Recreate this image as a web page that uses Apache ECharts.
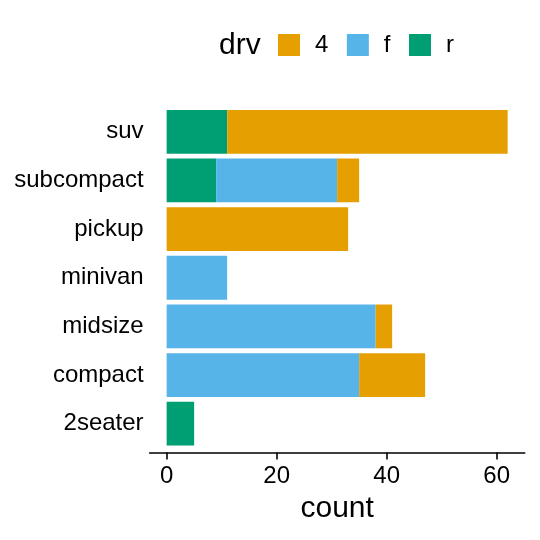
<!DOCTYPE html>
<html>
<head>
<meta charset="utf-8">
<script src="https://cdn.jsdelivr.net/npm/echarts@6/dist/echarts.min.js"></script>
<style>html,body{margin:0;padding:0;background:#fff}#c{width:540px;height:540px}</style>
</head>
<body>
<div id="c"></div>
<script>
var categories = ['2seater','compact','midsize','minivan','pickup','subcompact','suv'];
var drvR = [5, 0, 0, 0, 0, 9, 11];
var drvF = [0, 35, 38, 11, 0, 22, 0];
var drv4 = [0, 12, 3, 0, 33, 4, 51];
var xTicks = [0, 20, 40, 60];
var legendOrder = ['4', 'f', 'r'];

var font = 'Liberation Sans, Arial, Helvetica, sans-serif';
var chart = echarts.init(document.getElementById('c'), null, {renderer: 'canvas'});
function bar(name, data, color) {
  return {name: name, type: 'bar', stack: 'all', data: data, barWidth: '90%',
    itemStyle: {color: color}, emphasis: {disabled: true}, animation: false};
}
chart.setOption({
  animation: false,
  backgroundColor: '#ffffff',
  grid: {left: 149.6, right: 15.3, top: 107.5, bottom: 92, containLabel: false, outerBoundsMode: 'none'},
  graphic: [{type: 'text', left: 219, top: 31, style: {text: 'drv', font: '30px ' + font, fill: '#000'}}],
  legend: {
    data: legendOrder, left: 278, top: 33, padding: 0, itemWidth: 22, itemHeight: 22, itemGap: 18.5,
    icon: 'rect', selectedMode: false,
    textStyle: {fontSize: 24, fontFamily: font, color: '#000', padding: [2, 0, 0, 10]}
  },
  xAxis: {
    type: 'value', min: -3.1, max: 65.1, offset: 4.5,
    name: 'count', nameLocation: 'middle', nameGap: 40,
    nameTextStyle: {fontSize: 30, fontFamily: font, color: '#000'},
    splitLine: {show: false},
    axisLine: {show: true, lineStyle: {color: '#000', width: 1.6}},
    axisTick: {show: true, length: 7, lineStyle: {color: '#000', width: 1.6}, customValues: xTicks},
    axisLabel: {fontSize: 24, fontFamily: font, color: '#000', margin: 12, customValues: xTicks}
  },
  yAxis: {
    type: 'category', data: categories,
    axisLine: {show: false}, axisTick: {show: false},
    axisLabel: {fontSize: 24, fontFamily: font, color: '#000', margin: 6, padding: [4, 0, 0, 0]}
  },
  series: [bar('r', drvR, '#009E73'), bar('f', drvF, '#56B4E9'), bar('4', drv4, '#E69F00')]
});
</script>
</body>
</html>
